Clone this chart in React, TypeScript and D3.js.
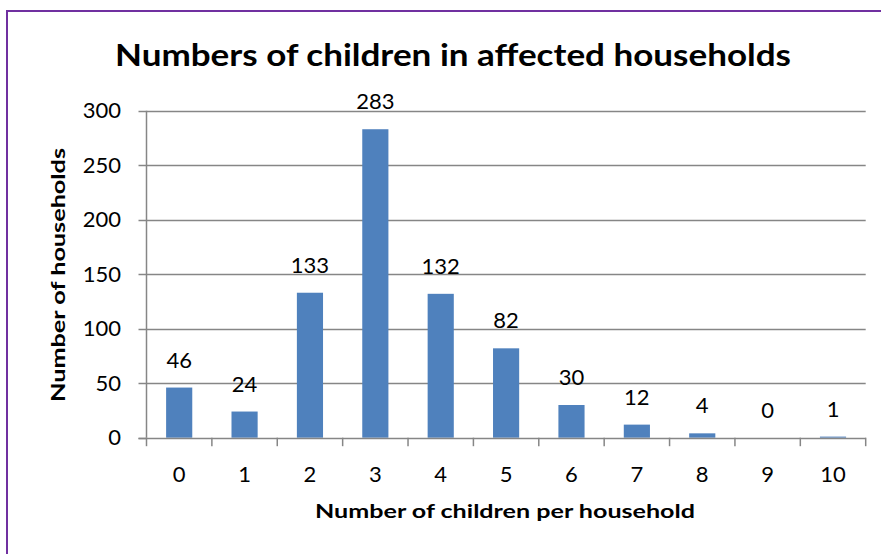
import React, { useRef, useEffect } from "react";
import * as d3 from "d3";

const categories = ["0", "1", "2", "3", "4", "5", "6", "7", "8", "9", "10"];
const households = [46, 24, 133, 283, 132, 82, 30, 12, 4, 0, 1];
const yTicks = [0, 50, 100, 150, 200, 250, 300];

const chartTitle = "Numbers of children in affected households";
const xTitle = "Number of children per household";
const yTitle = "Number of households";

const W = 881;
const H = 554;
const FONT = "Lato, 'Open Sans', sans-serif";

const App: React.FC = () => {
  const ref = useRef<SVGSVGElement | null>(null);

  useEffect(() => {
    const svg = d3.select(ref.current);
    svg.selectAll("*").remove();

    const left = 146.5;
    const right = 865.7;
    const top = 110.7;
    const bottom = 437.7;
    const grey = "#868686";

    const x = d3
      .scaleBand()
      .domain(categories)
      .range([left, right])
      .paddingInner(0.6)
      .paddingOuter(0.3);
    const y = d3.scaleLinear().domain([0, 300]).range([bottom, top]);
    const step = x.step();
    const offset = (step - x.bandwidth()) / 2;

    // outer frame
    svg
      .append("rect")
      .attr("x", 7)
      .attr("y", 11)
      .attr("width", W)
      .attr("height", H)
      .attr("fill", "white")
      .attr("stroke", "#7030A0")
      .attr("stroke-width", 2);

    // gridlines
    svg
      .append("g")
      .selectAll("line")
      .data(yTicks.filter(t => t > 0))
      .enter()
      .append("line")
      .attr("x1", left)
      .attr("x2", right)
      .attr("y1", d => Math.round(y(d)) + 0.5)
      .attr("y2", d => Math.round(y(d)) + 0.5)
      .attr("stroke", grey)
      .attr("stroke-width", 1.5);

    // bars
    svg
      .append("g")
      .selectAll("rect")
      .data(households)
      .enter()
      .append("rect")
      .attr("x", (d, i) => x(categories[i])!)
      .attr("y", d => y(d))
      .attr("width", x.bandwidth())
      .attr("height", d => bottom - y(d))
      .attr("fill", "#4F81BD");

    // y axis line + ticks
    const ax = svg.append("g").attr("stroke", grey).attr("stroke-width", 1.5);
    ax.append("line")
      .attr("x1", left)
      .attr("x2", left)
      .attr("y1", top)
      .attr("y2", bottom);
    ax.selectAll(".ytick")
      .data(yTicks)
      .enter()
      .append("line")
      .attr("x1", left - 8)
      .attr("x2", left)
      .attr("y1", d => Math.round(y(d)) + 0.5)
      .attr("y2", d => Math.round(y(d)) + 0.5);

    // x axis line + ticks at category boundaries
    ax.append("line")
      .attr("x1", left - 8)
      .attr("x2", right)
      .attr("y1", Math.round(bottom) + 0.5)
      .attr("y2", Math.round(bottom) + 0.5);
    const bounds = categories.map(c => x(c)! - offset).concat([right]);
    ax.selectAll(".xtick")
      .data(bounds)
      .enter()
      .append("line")
      .attr("x1", d => d)
      .attr("x2", d => d)
      .attr("y1", bottom)
      .attr("y2", bottom + 8.5);

    // y tick labels
    svg
      .append("g")
      .selectAll("text")
      .data(yTicks)
      .enter()
      .append("text")
      .attr("x", 121)
      .attr("y", d => y(d) + 7.5)
      .attr("text-anchor", "end")
      .attr("font-family", FONT)
      .attr("font-size", 22)
      .text(d => d);

    // x tick labels
    svg
      .append("g")
      .selectAll("text")
      .data(categories)
      .enter()
      .append("text")
      .attr("x", d => x(d)! + x.bandwidth() / 2)
      .attr("y", 482)
      .attr("text-anchor", "middle")
      .attr("font-family", FONT)
      .attr("font-size", 22)
      .text(d => d);

    // data labels
    svg
      .append("g")
      .selectAll("text")
      .data(households)
      .enter()
      .append("text")
      .attr("x", (d, i) => x(categories[i])! + x.bandwidth() / 2)
      .attr("y", d => y(d) - 20)
      .attr("text-anchor", "middle")
      .attr("font-family", FONT)
      .attr("font-size", 22)
      .text(d => d);

    // titles
    svg
      .append("text")
      .attr("x", 453)
      .attr("y", 66)
      .attr("text-anchor", "middle")
      .attr("font-family", FONT)
      .attr("font-weight", "bold")
      .attr("font-size", 31)
      .attr("textLength", 676)
      .attr("lengthAdjust", "spacingAndGlyphs")
      .text(chartTitle);

    svg
      .append("text")
      .attr("x", 505)
      .attr("y", 518)
      .attr("text-anchor", "middle")
      .attr("font-family", FONT)
      .attr("font-weight", "bold")
      .attr("font-size", 19)
      .attr("textLength", 380)
      .attr("lengthAdjust", "spacingAndGlyphs")
      .text(xTitle);

    svg
      .append("text")
      .attr("transform", "translate(65, 275) rotate(-90)")
      .attr("text-anchor", "middle")
      .attr("font-family", FONT)
      .attr("font-weight", "bold")
      .attr("font-size", 19)
      .attr("textLength", 254)
      .attr("lengthAdjust", "spacingAndGlyphs")
      .text(yTitle);
  }, []);

  return (
    <svg
      ref={ref}
      width={W}
      height={H}
      style={{ position: "absolute", left: 0, top: 0, display: "block" }}
    />
  );
};

export default App;
